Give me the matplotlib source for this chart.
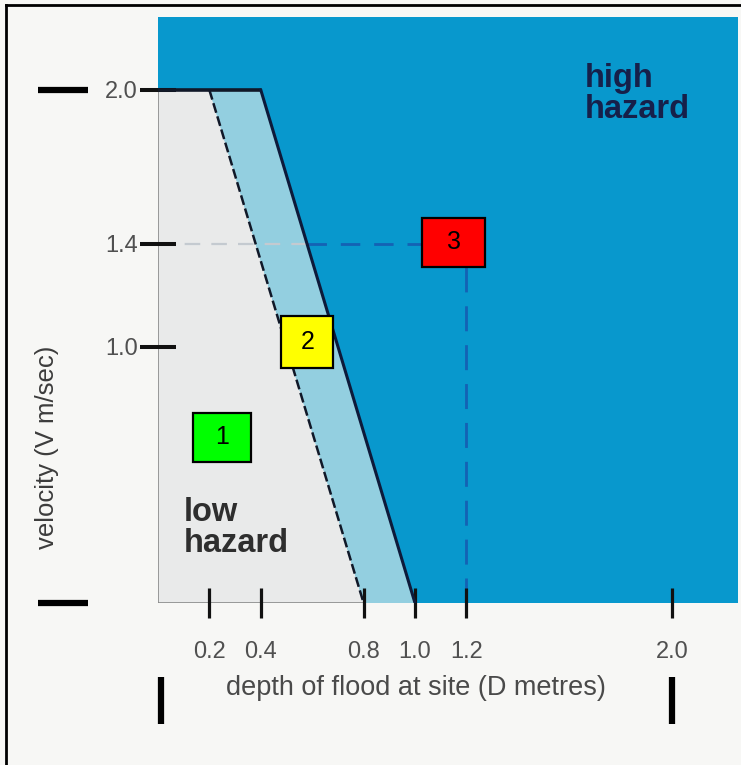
import matplotlib
matplotlib.use("Agg")
import matplotlib.pyplot as plt
from matplotlib.patches import Polygon, Rectangle
from matplotlib.lines import Line2D
import matplotlib.transforms as mtransforms

# ---- data ----
low_x = [0.0, 0.0, 0.2, 0.8]
low_y = [0.0, 2.0, 2.0, 0.0]
med_x = [0.2, 0.4, 1.0, 0.8]
med_y = [2.0, 2.0, 0.0, 0.0]
x_ticks = [0.2, 0.4, 0.8, 1.0, 1.2, 2.0]
x_tick_labels = ["0.2", "0.4", "0.8", "1.0", "1.2", "2.0"]
y_ticks = [1.0, 1.4, 2.0]
y_tick_labels = ["1.0", "1.4", "2.0"]
ref_depth = 1.2
ref_velocity = 1.4
box_labels = ["1", "2", "3"]
box_x0 = [0.138, 0.480, 1.029]
box_y0 = [0.550, 0.916, 1.310]
box_w = [0.222, 0.202, 0.245]
box_h = [0.191, 0.203, 0.191]
box_colors = ["#00ff00", "#ffff00", "#ff0000"]

W, H = 741, 765
fig = plt.figure(figsize=(W / 100, H / 100), dpi=100)
fig.patch.set_facecolor("#f7f7f5")
plt.rcParams["font.family"] = ["Liberation Sans", "DejaVu Sans"]

ax = fig.add_axes([158 / W, 1 - 603 / H, 580 / W, 586 / H])
ax.set_xlim(0, 580 / 257)
ax.set_ylim(0, 586 / 256.5)
ax.set_facecolor("#0898cd")
ax.set_axisbelow(False)
for s in ax.spines.values():
    s.set_visible(False)

# zones
ax.add_patch(Polygon(list(zip(med_x, med_y)), closed=True, facecolor="#93cfe0",
                     edgecolor="none", zorder=1))
ax.add_patch(Polygon(list(zip(low_x, low_y)), closed=True, facecolor="#e9eaea",
                     edgecolor="none", zorder=1.1))
# thin outline of low zone (left & bottom)
ax.plot([low_x[0], low_x[1]], [low_y[0], low_y[1]], color="#8a8a8a", lw=1.2, zorder=2)
ax.plot([low_x[0], low_x[3]], [low_y[0], low_y[3]], color="#8a8a8a", lw=1.2, zorder=2)

# reference dashed lines (below ticks and boundaries)
x_cross = med_x[1] + (med_x[2] - med_x[1]) * (med_y[1] - ref_velocity) / (med_y[1] - med_y[2])
ax.plot([0, x_cross], [ref_velocity, ref_velocity], color="#c4cad0", lw=1.6,
        dashes=(7, 5), zorder=2.1)
ax.plot([x_cross, ref_depth], [ref_velocity, ref_velocity], color="#1462b4", lw=2.0,
        dashes=(7, 5), zorder=2.1)
ax.plot([ref_depth, ref_depth], [0, ref_velocity], color="#1462b4", lw=2.0,
        dashes=(9, 5), zorder=2.1)

# boundaries
ax.plot([low_x[1], med_x[1]], [low_y[1], med_y[1]], color="#101828", lw=2.6, zorder=3,
        solid_capstyle="butt")
ax.plot([med_x[0], med_x[3]], [med_y[0], med_y[3]], color="#101828", lw=1.8, zorder=3,
        dashes=(4, 1.5))
ax.plot([med_x[1], med_x[2]], [med_y[1], med_y[2]], color="#0d1a3a", lw=2.2, zorder=3)

# ticks
ax.set_xticks(x_ticks)
ax.set_xticklabels(x_tick_labels)
ax.set_yticks(y_ticks)
ax.set_yticklabels(y_tick_labels)
ax.tick_params(axis="x", direction="inout", length=22, width=2.3, color="#111111",
               pad=16, labelsize=17, labelcolor="#505050")
ax.tick_params(axis="y", direction="inout", length=25.5, width=2.9, color="#111111",
               pad=2, labelsize=17, labelcolor="#505050")

# zone labels
ax.text(1.659, 2.105, "high\nhazard", ha="left", va="top", fontsize=23.5, fontweight="bold",
        color="#16204a", linespacing=0.98, zorder=4)
ax.text(0.099, 0.415, "low\nhazard", ha="left", va="top", fontsize=23.5, fontweight="bold",
        color="#2e2e2e", linespacing=1.0, zorder=4)

# numbered boxes
for lab, x0, y0, w, h, c in zip(box_labels, box_x0, box_y0, box_w, box_h, box_colors):
    ax.add_patch(Rectangle((x0, y0), w, h, facecolor=c, edgecolor="black", lw=1.6, zorder=5))
    ax.text(x0 + w / 2, y0 + h / 2, lab, ha="center", va="center", fontsize=18,
            color="black", zorder=6)

# axis titles
fig.text(47 / W, 1 - 447 / H, "velocity (V m/sec)", rotation=90, ha="center", va="center",
         fontsize=18.5, color="#3c3c3c")
fig.text(416 / W, 1 - 688 / H, "depth of flood at site (D metres)", ha="center",
         va="center", fontsize=19.5, color="#4a4a4a")

# crop marks
tr_h = mtransforms.blended_transform_factory(fig.transFigure, ax.transData)
for yv in [2.0, 0.0]:
    fig.add_artist(Line2D([38 / W, 88 / W], [yv, yv], transform=tr_h, color="black",
                          lw=4.5, solid_capstyle="butt"))
tr_v = mtransforms.blended_transform_factory(ax.transData, fig.transFigure)
for xv in [0.013, 2.0]:
    fig.add_artist(Line2D([xv, xv], [1 - 677 / H, 1 - 724 / H], transform=tr_v,
                          color="black", lw=4.5, solid_capstyle="butt"))

# outer frame (left & top)
fig.add_artist(Line2D([6 / W, 6 / W], [0, 1 - 5 / H], transform=fig.transFigure,
                      color="black", lw=2))
fig.add_artist(Line2D([6 / W, 1], [1 - 5 / H, 1 - 5 / H], transform=fig.transFigure,
                      color="black", lw=2))

fig.savefig("out.png", dpi=100, facecolor=fig.get_facecolor())
